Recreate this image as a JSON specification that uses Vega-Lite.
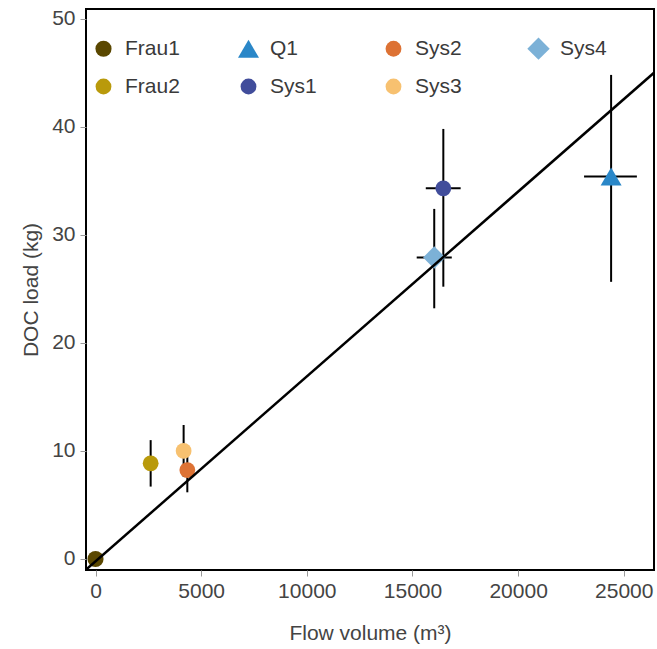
{
  "$schema": "https://vega.github.io/schema/vega-lite/v6.json",
  "width": 568,
  "height": 561,
  "autosize": {"type": "none"},
  "padding": {"left": 86, "top": 9, "right": 3, "bottom": 79},
  "background": "white",
  "config": {
    "font": "Liberation Sans",
    "view": {"stroke": "black", "strokeWidth": 2},
    "axis": {
      "grid": false,
      "domain": false,
      "tickColor": "#999999",
      "tickSize": 6,
      "tickWidth": 1,
      "labelFont": "Liberation Sans",
      "labelFontSize": 21,
      "labelColor": "#444444",
      "titleFont": "Liberation Sans",
      "titleFontSize": 21,
      "titleFontWeight": "normal",
      "titleColor": "#444444"
    }
  },
  "datasets": {
    "points": [
      {"site": "Frau1", "flow": 0, "doc": 0},
      {"site": "Frau2", "flow": 2610, "doc": 8.85},
      {"site": "Sys3", "flow": 4170, "doc": 10.0},
      {"site": "Sys2", "flow": 4345, "doc": 8.23},
      {"site": "Sys4", "flow": 16030, "doc": 27.9},
      {"site": "Sys1", "flow": 16460, "doc": 34.3},
      {"site": "Q1", "flow": 24400, "doc": 35.4}
    ],
    "yerr": [
      {"site": "Frau2", "flow": 2610, "lo": 6.7, "hi": 11.0},
      {"site": "Sys3", "flow": 4170, "lo": 7.6, "hi": 12.4},
      {"site": "Sys2", "flow": 4345, "lo": 6.17, "hi": 10.3},
      {"site": "Sys4", "flow": 16030, "lo": 23.2, "hi": 32.4},
      {"site": "Sys1", "flow": 16460, "lo": 25.2, "hi": 39.8},
      {"site": "Q1", "flow": 24400, "lo": 25.65, "hi": 44.8}
    ],
    "xerr": [
      {"site": "Sys4", "doc": 27.9, "lo": 15200, "hi": 16860},
      {"site": "Sys1", "doc": 34.3, "lo": 15630, "hi": 17280},
      {"site": "Q1", "doc": 35.4, "lo": 23120, "hi": 25620}
    ],
    "fit": [
      {"flow": -450, "doc": -0.99},
      {"flow": 26430, "doc": 45.0}
    ]
  },
  "layer": [
    {
      "data": {"name": "yerr"},
      "mark": {"type": "rule", "color": "black", "strokeWidth": 2},
      "encoding": {
        "x": {"field": "flow", "type": "quantitative"},
        "y": {"field": "lo", "type": "quantitative"},
        "y2": {"field": "hi"}
      }
    },
    {
      "data": {"name": "xerr"},
      "mark": {"type": "rule", "color": "black", "strokeWidth": 2},
      "encoding": {
        "y": {"field": "doc", "type": "quantitative"},
        "x": {"field": "lo", "type": "quantitative"},
        "x2": {"field": "hi"}
      }
    },
    {
      "data": {"name": "points"},
      "mark": {"type": "point", "filled": true, "opacity": 1, "strokeWidth": 0},
      "encoding": {
        "x": {
          "field": "flow", "type": "quantitative",
          "scale": {"domain": [-450, 26430], "nice": false, "zero": false},
          "axis": {"title": "Flow volume (m³)", "values": [0, 5000, 10000, 15000, 20000, 25000], "format": "d", "labelPadding": 4, "titlePadding": 21}
        },
        "y": {
          "field": "doc", "type": "quantitative",
          "scale": {"domain": [-1.02, 50.9], "nice": false, "zero": false},
          "axis": {"title": "DOC load (kg)", "values": [0, 10, 20, 30, 40, 50], "labelPadding": 5, "titlePadding": 10}
        },
        "size": {
          "field": "site", "type": "nominal",
          "scale": {"type": "ordinal", "domain": ["Frau1", "Q1", "Sys2", "Sys4", "Frau2", "Sys1", "Sys3"], "range": [260, 441, 250, 500, 250, 250, 250]},
          "legend": null
        },
        "color": {
          "field": "site", "type": "nominal",
          "scale": {
            "domain": ["Frau1", "Q1", "Sys2", "Sys4", "Frau2", "Sys1", "Sys3"],
            "range": ["#5a4700", "#2a87c8", "#dd7234", "#7cb1d7", "#b99a0b", "#414d9b", "#f7c170"]
          },
          "legend": {
            "title": null,
            "orient": "none",
            "legendX": 6,
            "legendY": 28,
            "direction": "horizontal",
            "columns": 4,
            "gridAlign": "all",
            "columnPadding": 57,
            "rowPadding": 15,
            "symbolSize": 250,
            "symbolOpacity": 1,
            "symbolStrokeWidth": 0,
            "labelFont": "Liberation Sans",
            "labelFontSize": 21,
            "labelColor": "#3a3a3a",
            "labelOffset": 10,
            "padding": 0,
            "encode": {
              "symbols": {"update": {"size": {"signal": "datum.value === 'Q1' ? 441 : datum.value === 'Sys4' ? 500 : 250"}}}
            }
          }
        },
        "shape": {
          "field": "site", "type": "nominal",
          "scale": {
            "domain": ["Frau1", "Q1", "Sys2", "Sys4", "Frau2", "Sys1", "Sys3"],
            "range": ["circle", "triangle-up", "circle", "diamond", "circle", "circle", "circle"]
          }
        }
      }
    },
    {
      "data": {"name": "fit"},
      "mark": {"type": "line", "color": "black", "strokeWidth": 2.5, "clip": true},
      "encoding": {
        "x": {"field": "flow", "type": "quantitative"},
        "y": {"field": "doc", "type": "quantitative"}
      }
    },
    {
      "mark": {"type": "text", "fontSize": 21, "color": "#333333", "font": "Liberation Sans"},
      "encoding": {
        "x": {"datum": 14980},
        "y": {"datum": 16.8},
        "text": {"value": "r² = 0.97"}
      }
    }
  ]
}
